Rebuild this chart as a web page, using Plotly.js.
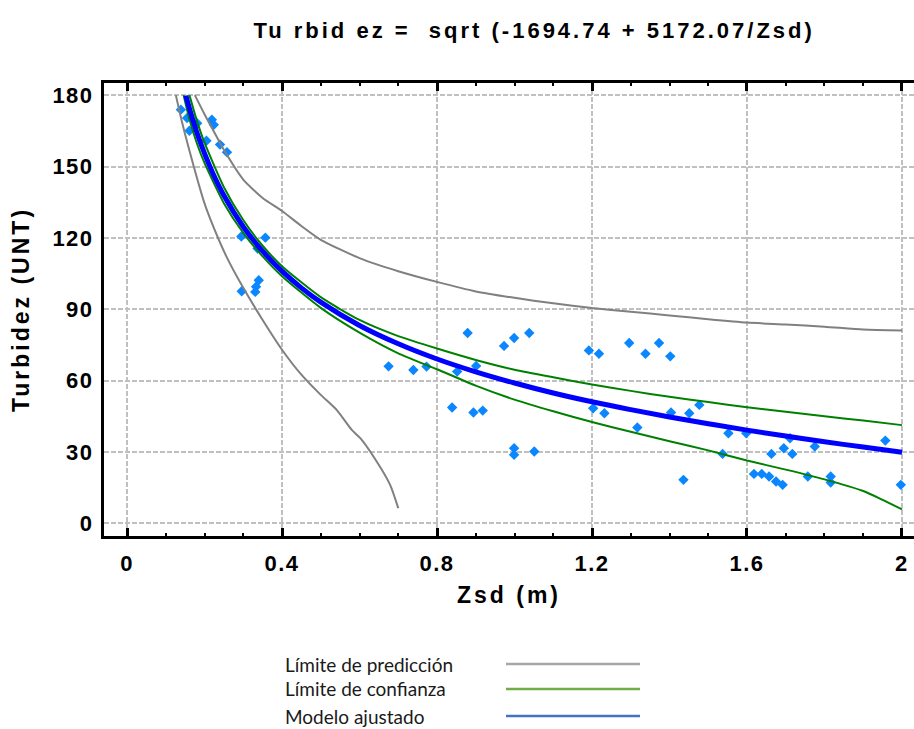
<!DOCTYPE html>
<html>
<head>
<meta charset="utf-8">
<script src="https://cdn.plot.ly/plotly-3.0.1.min.js"></script>
<style>
  html, body { margin: 0; padding: 0; background: #fff; }
  #chart { width: 914px; height: 729px; }
  .xtick text, .ytick text { letter-spacing: 1.5px; }
  .xtitle, .ytitle { letter-spacing: 3px; }
  .gtitle { letter-spacing: 3px; }
</style>
</head>
<body>
<div id="chart"></div>
<script>
// ---- Data ----
// Fitted model: Turbidez = sqrt(-1694.74 + 5172.07/Zsd)
const zsdModelo  = [0.152, 0.16, 0.18, 0.2, 0.22, 0.25, 0.3, 0.35, 0.4, 0.45, 0.5, 0.6, 0.7, 0.8, 0.9, 1.0, 1.1, 1.2, 1.3, 1.4, 1.5, 1.6, 1.7, 1.8, 1.9, 2.0];
const turbModelo = [179.8, 175.0, 164.4, 155.5, 147.7, 137.8, 124.7, 114.4, 106.0, 99.0, 93.0, 83.2, 75.5, 69.1, 63.7, 59.0, 54.8, 51.1, 47.8, 44.7, 41.9, 39.2, 36.7, 34.3, 32.1, 29.9];

// Confidence limits
const zsdConfSup = [0.161, 0.18, 0.2, 0.25, 0.3, 0.35, 0.4, 0.5, 0.6, 0.7, 0.8, 0.9, 1.0, 1.1, 1.2, 1.3, 1.4, 1.5, 1.6, 1.7, 1.8, 1.9, 2.0];
const confSup    = [180, 169.4, 160.0, 141.3, 127.5, 116.7, 108.1, 95.1, 85.5, 78.7, 73.5, 68.7, 64.6, 61.4, 58.4, 55.7, 53.2, 51.0, 48.8, 46.9, 45.0, 43.2, 41.3];
const zsdConfInf = [0.146, 0.16, 0.18, 0.2, 0.25, 0.3, 0.35, 0.4, 0.5, 0.6, 0.7, 0.8, 0.9, 1.0, 1.1, 1.2, 1.3, 1.4, 1.5, 1.6, 1.7, 1.8, 1.9, 1.95, 2.0];
const confInf    = [180, 170.5, 159.9, 151.5, 134.6, 122.1, 112.2, 103.9, 90.6, 80.2, 71.5, 64.8, 57.9, 52.0, 47.1, 42.6, 38.5, 34.5, 30.7, 26.4, 22.6, 18.5, 13.6, 9.9, 5.9];

// Prediction limits
const zsdPredSup = [0.175, 0.2, 0.22, 0.25, 0.3, 0.35, 0.4, 0.45, 0.5, 0.6, 0.7, 0.8, 0.9, 1.0, 1.1, 1.2, 1.3, 1.4, 1.5, 1.6, 1.7, 1.8, 1.9, 2.0];
const predSup    = [180, 172, 166, 157, 144.5, 136.8, 131.3, 125, 119.2, 111.5, 106, 101.5, 97.5, 94.8, 92.5, 90.5, 89, 87.4, 85.8, 84.4, 83.6, 82.7, 81.5, 81.1];
const zsdPredInf = [0.126, 0.14, 0.15, 0.171, 0.197, 0.214, 0.257, 0.3, 0.35, 0.4, 0.45, 0.5, 0.541, 0.58, 0.602, 0.636, 0.679, 0.70];
const predInf    = [180, 170, 163.5, 150.7, 136, 128.3, 112, 99, 85.5, 73, 62.5, 54, 47.7, 39.3, 35.8, 28.1, 16.2, 6.4];

// Observations
const zsdObs = [0.139, 0.155, 0.161, 0.181, 0.205, 0.219, 0.224, 0.24, 0.258,
                0.295, 0.357, 0.337, 0.34, 0.333, 0.331, 0.296,
                0.675, 0.739, 0.773, 0.852, 0.901, 0.879, 0.973, 0.999, 1.038,
                0.839, 0.894, 0.918, 0.999, 0.999, 1.051,
                1.192, 1.218, 1.296, 1.338, 1.373, 1.402, 1.203, 1.232, 1.317,
                1.404, 1.451, 1.477, 1.436, 1.537, 1.552, 1.598,
                1.618, 1.638, 1.657, 1.675, 1.692, 1.663, 1.695, 1.711, 1.717,
                1.775, 1.757, 1.816, 1.816, 1.957, 1.997];
const turbObs = [173.9, 170.4, 165.0, 168.2, 160.8, 169.7, 167.5, 159.2, 156.0,
                 120.6, 120.1, 115.5, 102.2, 99.5, 97.3, 97.6,
                 66.0, 64.5, 65.9, 63.8, 66.2, 80.0, 74.6, 77.9, 80.0,
                 48.7, 46.6, 47.4, 31.6, 28.8, 30.2,
                 72.7, 71.3, 75.8, 71.3, 75.8, 70.2, 48.4, 46.3, 40.3,
                 46.6, 46.3, 49.8, 18.3, 29.2, 37.9, 37.9,
                 20.8, 20.8, 19.7, 17.6, 16.2, 29.2, 31.6, 35.8, 29.2,
                 32.3, 19.7, 19.7, 17.2, 34.8, 16.2];

const xTickVals = [0, 0.4, 0.8, 1.2, 1.6, 2];
const xTickText = ['0', '0.4', '0.8', '1.2', '1.6', '2'];
const yTickVals = [0, 30, 60, 90, 120, 150, 180];
const yTickText = ['0', '30', '60', '90', '120', '150', '180'];

const legendLabels = ['Límite de predicción', 'Límite de confianza', 'Modelo ajustado'];
const legendColors = ['#a6a6a6', '#70ad47', '#4472c4'];

// ---- Traces ----
const traces = [
  { x: zsdObs, y: turbObs, type: 'scatter', mode: 'markers', name: 'Observado',
    marker: { symbol: 'diamond', size: 8, color: '#0a86ff', line: { width: 0 } } },
  { x: zsdPredSup, y: predSup, type: 'scatter', mode: 'lines', name: legendLabels[0],
    line: { color: '#808080', width: 2, shape: 'spline', smoothing: 0.6 } },
  { x: zsdPredInf, y: predInf, type: 'scatter', mode: 'lines', name: legendLabels[0],
    line: { color: '#808080', width: 2, shape: 'spline', smoothing: 0.6 } },
  { x: zsdConfSup, y: confSup, type: 'scatter', mode: 'lines', name: legendLabels[1],
    line: { color: '#008000', width: 2, shape: 'spline', smoothing: 0.6 } },
  { x: zsdConfInf, y: confInf, type: 'scatter', mode: 'lines', name: legendLabels[1],
    line: { color: '#008000', width: 2, shape: 'spline', smoothing: 0.6 } },
  { x: zsdModelo, y: turbModelo, type: 'scatter', mode: 'lines', name: legendLabels[2],
    line: { color: '#0000ff', width: 5, shape: 'spline' } }
];

const boldFont = { family: 'Liberation Sans, Arial, sans-serif', color: '#000', weight: 'bold' };

// Manual legend (text left, line right) in paper coordinates
const legY = [-0.2826, -0.3377, -0.3974];
const annotations = legendLabels.map((t, i) => ({
  text: t, xref: 'paper', yref: 'paper', x: 0.221, y: legY[i],
  xanchor: 'left', yanchor: 'middle', showarrow: false,
  font: { family: 'Lato, Noto Sans, sans-serif', size: 19, color: '#1a1a1a' }
}));
const shapes = legendColors.map((c, i) => ({
  type: 'line', xref: 'paper', yref: 'paper',
  x0: 0.4963, x1: 0.6617, y0: legY[i], y1: legY[i],
  line: { color: c, width: 2.5 }
}));

const gridStyle = { showgrid: true, gridcolor: '#c0c0c0', gridwidth: 2, griddash: '5px,2px', zeroline: false };

const layout = {
  width: 914, height: 729,
  margin: { l: 104, r: 0, t: 83, b: 193 },
  paper_bgcolor: '#fff', plot_bgcolor: '#fff',
  showlegend: false,
  title: {
    text: 'Tu rbid ez =  sqrt (-1694.74 + 5172.07/Zsd)',
    font: Object.assign({ size: 22 }, boldFont),
    xref: 'paper', x: 0.531, xanchor: 'center',
    yref: 'container', y: 0.958, yanchor: 'middle'
  },
  xaxis: Object.assign({
    range: [-0.0594, 2.031],
    tickvals: xTickVals, ticktext: xTickText,
    ticks: 'inside', ticklen: 8, tickwidth: 3, tickcolor: '#000',
    showline: true, linewidth: 3, linecolor: '#000', mirror: 'ticks',
    minor: { tick0: 0, dtick: 0.1, ticks: 'inside', ticklen: 3, tickwidth: 2, tickcolor: '#000', showgrid: false },
    tickfont: Object.assign({ size: 22 }, boldFont),
    ticklabelstandoff: 6,
    title: { text: 'Zsd (m)', font: Object.assign({ size: 23 }, boldFont), standoff: 12 }
  }, gridStyle),
  yaxis: Object.assign({
    range: [-5.3, 185.1],
    tickvals: yTickVals, ticktext: yTickText,
    ticks: '', showline: true, linewidth: 3, linecolor: '#000', mirror: false,
    tickfont: Object.assign({ size: 22 }, boldFont),
    ticklabelstandoff: 3,
    title: { text: 'Turbidez (UNT)', font: Object.assign({ size: 23 }, boldFont), standoff: 17 }
  }, gridStyle),
  annotations: annotations,
  shapes: shapes
};

Plotly.newPlot('chart', traces, layout, { displayModeBar: false, staticPlot: true });
</script>
</body>
</html>
